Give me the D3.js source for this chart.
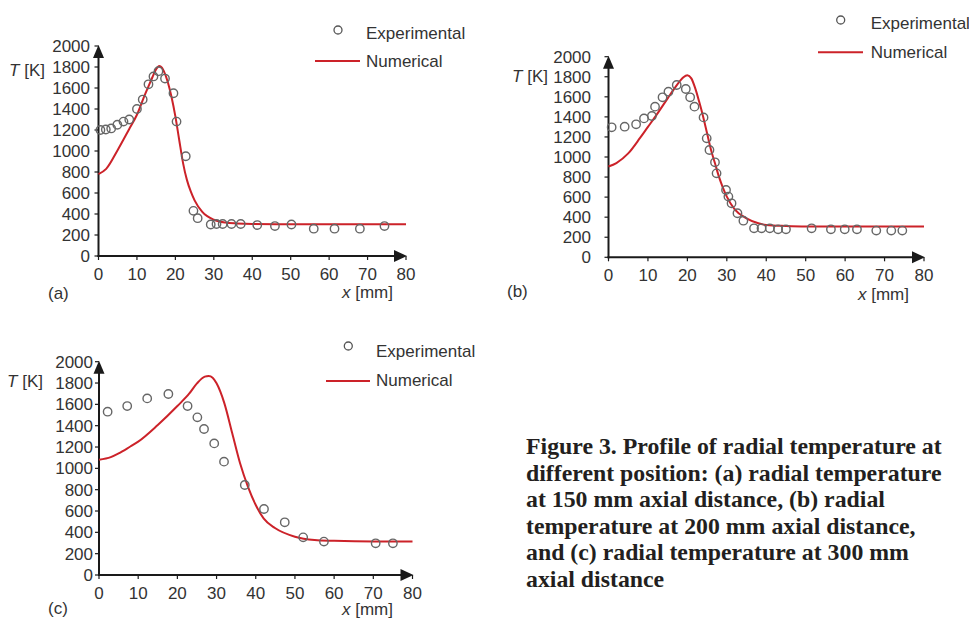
<!DOCTYPE html>
<html>
<head>
<meta charset="utf-8">
<script src="https://cdn.jsdelivr.net/npm/d3@7"></script>
<style>
  html, body { margin: 0; padding: 0; background: #ffffff; }
  svg { display: block; }
  .tick-label { font-family: "Liberation Sans", Arial, sans-serif; font-size: 17px; fill: #333; }
  .lab { font-family: "Liberation Sans", Arial, sans-serif; font-size: 17px; fill: #333; }
  .caption { font-family: "Liberation Serif", "Times New Roman", serif; font-weight: bold; font-size: 23.8px; fill: #231f20; }
</style>
</head>
<body>
<svg id="chart" width="969" height="619"></svg>
<script>
// ---------- data ----------
const xTicks = [0, 10, 20, 30, 40, 50, 60, 70, 80];
const yTicks = [0, 200, 400, 600, 800, 1000, 1200, 1400, 1600, 1800, 2000];
const legendLabels = ["Experimental", "Numerical"];
const panelLabels = ["(a)", "(b)", "(c)"];
const yAxisTitle = "[K]";
const xAxisTitle = "[mm]";

// (a) radial temperature at 150 mm
const expA = [[0.5,1200],[1.9,1205],[3.3,1215],[4.9,1250],[6.5,1280],[8.0,1300],[10.0,1400],[11.5,1490],[13.0,1635],[14.3,1710],[15.6,1760],[17.3,1690],[19.5,1550],[20.3,1280],[22.7,950],[24.7,430],[25.8,360],[29.2,300],[30.7,305],[32.3,305],[34.6,305],[37.0,305],[41.3,295],[45.9,285],[50.2,300],[56.0,260],[61.4,260],[68.0,260],[74.4,285]];
const numA = [[0,780],[2,830],[5,1010],[8,1210],[10,1345],[12,1530],[13,1615],[14,1700],[15,1780],[15.8,1810],[16.5,1795],[17,1760],[18,1660],[19,1515],[20,1330],[21,1105],[22,885],[23,725],[24,615],[25,530],[27,420],[30,345],[33,318],[36,310],[40,305],[50,303],[60,303],[70,303],[80,303]];

// (b) radial temperature at 200 mm
const expB = [[0.8,1296],[4.1,1302],[7.0,1326],[9.0,1385],[11.0,1409],[11.8,1502],[13.7,1595],[15.2,1651],[17.3,1718],[19.6,1678],[20.7,1595],[21.8,1502],[24.1,1395],[24.9,1186],[25.6,1070],[27.0,947],[27.4,837],[29.8,671],[30.4,605],[31.2,538],[32.7,439],[34.2,365],[36.9,289],[38.8,289],[40.9,289],[43.0,279],[45.0,279],[51.5,289],[56.4,279],[59.9,279],[63.0,279],[67.9,266],[71.7,266],[74.5,266]];
const numB = [[0,905],[2,940],[5,1036],[8,1190],[10,1300],[12,1410],[15,1585],[17,1700],[18,1751],[19,1795],[20,1815],[21,1784],[22,1684],[23,1550],[24,1402],[25,1236],[26,1070],[27,937],[28,804],[29,695],[30,605],[32,478],[35,389],[38,339],[40,322],[45,312],[50,307],[60,306],[70,306],[80,306]];

// (c) radial temperature at 300 mm
const expC = [[2.2,1531],[7.2,1584],[12.3,1656],[17.7,1697],[22.6,1584],[25.1,1478],[26.8,1369],[29.4,1234],[31.9,1063],[37.2,844],[42.1,619],[47.4,494],[52.1,353],[57.4,313],[70.6,297],[75.0,297]];
const numC = [[0,1080],[3,1105],[5,1140],[8,1205],[10,1250],[15,1406],[20,1584],[23,1700],[25,1797],[27,1860],[28,1866],[29,1850],[30,1797],[32,1609],[34,1328],[36,1047],[38,828],[40,656],[42,531],[45,438],[50,359],[55,328],[60,320],[70,313],[80,313]];

const captionLines = [
  "Figure 3. Profile of radial temperature at",
  "different position: (a) radial temperature",
  "at 150 mm axial distance, (b) radial",
  "temperature at 200 mm axial distance,",
  "and (c) radial temperature at 300 mm",
  "axial distance"
];

// ---------- layout ----------
const panels = [
  { exp: expA, num: numA, label: panelLabels[0],
    x0: 98.5, x1: 406, y0: 256, y1: 46,
    yLabEnd: 90, tkEnd: 45, tkY: 76,
    xt: 342, xtY: 298, plX: 48, plY: 299,
    leg: { cx: 338, cy: 30, tx: 366, ty1: 39, lx0: 315, lx1: 360, ly: 61, ty2: 67 } },
  { exp: expB, num: numB, label: panelLabels[1],
    x0: 608.5, x1: 924, y0: 257.3, y1: 56.7,
    yLabEnd: 591, tkEnd: 548, tkY: 82,
    xt: 858, xtY: 300, plX: 507, plY: 297,
    leg: { cx: 840.7, cy: 20, tx: 870.7, ty1: 29.3, lx0: 818, lx1: 863, ly: 52.3, ty2: 58.3 } },
  { exp: expC, num: numC, label: panelLabels[2],
    x0: 99, x1: 412.5, y0: 575, y1: 361.7,
    yLabEnd: 93, tkEnd: 43, tkY: 387,
    xt: 342, xtY: 615, plX: 48, plY: 614,
    leg: { cx: 348.3, cy: 346, tx: 376, ty1: 356.7, lx0: 326, lx1: 370, ly: 381, ty2: 386 } }
];

const svg = d3.select("#chart");
const red = "#cc2229";
const axisColor = "#1a1a1a";

panels.forEach(p => {
  const x = d3.scaleLinear().domain([0, 80]).range([p.x0, p.x1]);
  const y = d3.scaleLinear().domain([0, 2000]).range([p.y0, p.y1]);
  const g = svg.append("g");

  // y ticks
  g.selectAll(".ytk").data(yTicks).enter().append("line")
    .attr("x1", x(0) - 4).attr("x2", x(0))
    .attr("y1", d => y(d)).attr("y2", d => y(d))
    .attr("stroke", axisColor).attr("stroke-width", 1.2);
  g.selectAll(".ylab").data(yTicks).enter().append("text")
    .attr("class", "tick-label")
    .attr("x", p.yLabEnd).attr("y", d => y(d))
    .attr("dy", "0.36em").attr("text-anchor", "end")
    .text(d => d);

  // x ticks
  g.selectAll(".xtk").data(xTicks).enter().append("line")
    .attr("x1", d => x(d)).attr("x2", d => x(d))
    .attr("y1", y(0)).attr("y2", y(0) + 4)
    .attr("stroke", axisColor).attr("stroke-width", 1.2);
  g.selectAll(".xlab").data(xTicks).enter().append("text")
    .attr("class", "tick-label")
    .attr("x", d => x(d)).attr("y", y(0) + 24)
    .attr("text-anchor", "middle")
    .text(d => d);

  // axes lines
  g.append("line").attr("x1", x(0)).attr("x2", x(0))
    .attr("y1", y(0) + 1).attr("y2", y(2000) + 8)
    .attr("stroke", axisColor).attr("stroke-width", 2);
  g.append("line").attr("x1", x(0) - 1).attr("x2", x(80) - 8)
    .attr("y1", y(0)).attr("y2", y(0))
    .attr("stroke", axisColor).attr("stroke-width", 2);
  // arrow heads
  g.append("path")
    .attr("d", `M${x(0)},${y(2000) - 1} L${x(0) - 5.5},${y(2000) + 12} L${x(0) + 5.5},${y(2000) + 12} Z`)
    .attr("fill", axisColor);
  g.append("path")
    .attr("d", `M${x(80) + 1},${y(0)} L${x(80) - 12},${y(0) - 6} L${x(80) - 12},${y(0) + 6} Z`)
    .attr("fill", axisColor);

  // numerical curve
  const line = d3.line().x(d => x(d[0])).y(d => y(d[1])).curve(d3.curveMonotoneX);
  g.append("path").datum(p.num)
    .attr("d", line).attr("fill", "none")
    .attr("stroke", red).attr("stroke-width", 2);

  // experimental points
  g.selectAll(".pt").data(p.exp).enter().append("circle")
    .attr("cx", d => x(d[0])).attr("cy", d => y(d[1])).attr("r", 4.2)
    .attr("fill", "none").attr("stroke", "#666").attr("stroke-width", 1.4);

  // axis titles
  const tk = g.append("text").attr("class", "lab")
    .attr("x", p.tkEnd).attr("y", p.tkY).attr("text-anchor", "end");
  tk.append("tspan").attr("font-style", "italic").text("T");
  tk.append("tspan").text(" " + yAxisTitle);

  const xt = g.append("text").attr("class", "lab").attr("x", p.xt).attr("y", p.xtY);
  xt.append("tspan").attr("font-style", "italic").text("x");
  xt.append("tspan").text(" " + xAxisTitle);

  g.append("text").attr("class", "lab").attr("x", p.plX).attr("y", p.plY).text(p.label);

  // legend
  const L = p.leg;
  g.append("circle").attr("cx", L.cx).attr("cy", L.cy).attr("r", 4)
    .attr("fill", "none").attr("stroke", "#555").attr("stroke-width", 1.3);
  g.append("text").attr("class", "lab").attr("x", L.tx).attr("y", L.ty1).text(legendLabels[0]);
  g.append("line").attr("x1", L.lx0).attr("x2", L.lx1).attr("y1", L.ly).attr("y2", L.ly)
    .attr("stroke", red).attr("stroke-width", 2);
  g.append("text").attr("class", "lab").attr("x", L.tx).attr("y", L.ty2).text(legendLabels[1]);
});

// caption
svg.append("g").selectAll("text").data(captionLines).enter().append("text")
  .attr("class", "caption")
  .attr("x", 526)
  .attr("y", (d, i) => 454 + i * 26.6)
  .text(d => d);
</script>
</body>
</html>
